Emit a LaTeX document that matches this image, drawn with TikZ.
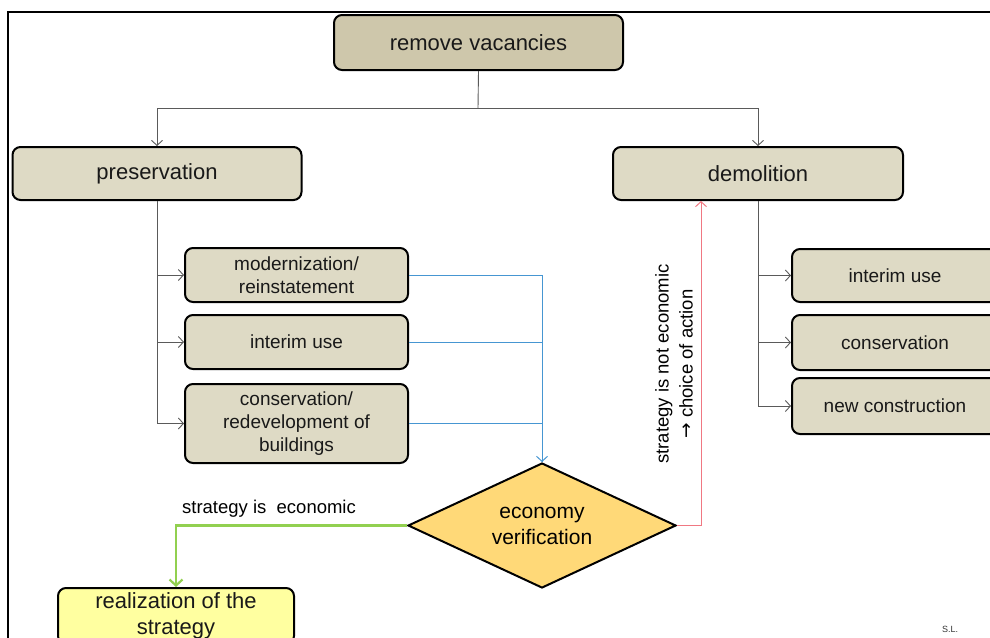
\documentclass[tikz,border=0pt]{standalone}
\usepackage{fontspec}
\setmainfont{Liberation Sans}
\newfontfamily\arrowfont{DejaVu Sans}
\usetikzlibrary{shapes.geometric,arrows.meta}
\definecolor{tandark}{RGB}{206,199,171}
\definecolor{tanlight}{RGB}{222,218,197}
\definecolor{goldfill}{RGB}{255,217,120}
\definecolor{paleyellow}{RGB}{255,255,160}
\definecolor{linkblue}{RGB}{70,150,210}
\definecolor{linkgreen}{RGB}{146,208,80}
\definecolor{linkred}{RGB}{240,120,130}
\definecolor{linkgray}{RGB}{90,90,90}
\newcommand{\bigfont}{\fontsize{22}{26}\selectfont}
\newcommand{\boxfont}{\fontsize{19}{23}\selectfont}
\tikzset{
	stagebox/.style={draw=black, line width=2pt, rounded corners=8pt, fill=tanlight, inner sep=0pt, align=center, text=black!90},
	vtip/.style={-{Straight Barb[length=5pt, width=11pt]}},
	conn/.style={draw=linkgray, line width=0.9pt, vtip},
}

\begin{document}
\begin{tikzpicture}[x=1pt, y=-1pt]
			%%%%% START %%%%%
			
			\useasboundingbox (0, 0) rectangle (990, 637);
			\draw[line width=2.5pt] (8, 12) rectangle (1010, 660);
			
			\node[stagebox, fill=tandark, minimum width=289pt, minimum height=55pt, font=\bigfont] (top) at (478.5, 42.5) {remove vacancies};
			
			\node[stagebox, minimum width=289pt, minimum height=53pt, font=\bigfont] (pres) at (157, 173.5) {preservation};
			\node[stagebox, minimum width=290pt, minimum height=53pt, font=\bigfont] (dem) at (758, 173.5) {demolition};
			
			\node[stagebox, minimum width=223pt, minimum height=54pt, font=\boxfont] (modern) at (296.5, 275) {modernization/\\reinstatement};
			\node[stagebox, minimum width=223pt, minimum height=54pt, font=\boxfont] (interimL) at (296.5, 342) {interim use};
			\node[stagebox, minimum width=223pt, minimum height=79pt, font=\boxfont] (redev) at (296.5, 423.5) {conservation/\\redevelopment of\\buildings};
			
			\node[stagebox, minimum width=206pt, minimum height=53pt, font=\boxfont] (interimR) at (895, 275.5) {interim use};
			\node[stagebox, minimum width=206pt, minimum height=55pt, font=\boxfont] (conserv) at (895, 342.5) {conservation};
			\node[stagebox, minimum width=206pt, minimum height=56pt, font=\boxfont] (newcon) at (895, 406) {new construction};
			
			\node[diamond, aspect=2, draw=black, line width=2pt, fill=goldfill, inner sep=0pt, minimum width=268pt, minimum height=125pt, align=center, font=\fontsize{21}{26}\selectfont] (eco) at (542, 525.5) {economy\\verification};
			
			\node[stagebox, fill=paleyellow, minimum width=236pt, minimum height=56pt, font=\fontsize{22}{26}\selectfont] (real) at (176, 616) {realization of the\\strategy};
			
			\coordinate (split) at (478, 108);
			\draw[draw=linkgray, line width=0.9pt] (top.south) -- (split);
			\draw[conn] (split) -| (pres.north);
			\draw[conn] (split) -| (dem.north);
			
			\draw[conn] (pres.south) |- (modern.west);
			\draw[conn] (pres.south) |- (interimL.west);
			\draw[conn] (pres.south) |- (redev.west);
			
			\draw[conn] (dem.south) |- (interimR.west);
			\draw[conn] (dem.south) |- (conserv.west);
			\draw[conn] (dem.south) |- (newcon.west);
			
			\draw[linkblue, line width=1pt] (modern.east) -| (eco.north);
			\draw[linkblue, line width=1pt] (interimL.east) -| (eco.north);
			\draw[linkblue, line width=1pt, vtip] (redev.east) -| (eco.north);
			
			\draw[linkgreen, line width=2.2pt, -{Straight Barb[length=6pt, width=13pt]}] (eco.west) -| (real.north);
			\node[font=\fontsize{18.5}{22}\selectfont] (yeseco) at (269, 508.5) {strategy is~ economic};
			
			\draw[linkred, line width=1pt, vtip] (eco.east) -| ([xshift=-57pt]dem.south);
			\node[rotate=90, align=center, font=\fontsize{18.5}{24}\selectfont] (noteco) at (674, 364) {strategy is not economic\\{\arrowfont →} choice of action};
			
			\node[font=\fontsize{9}{10}\selectfont, text=black!80] (sign) at (950, 629) {S.L.};
			
			%%%%% END %%%%%
		\end{tikzpicture}
\end{document}
